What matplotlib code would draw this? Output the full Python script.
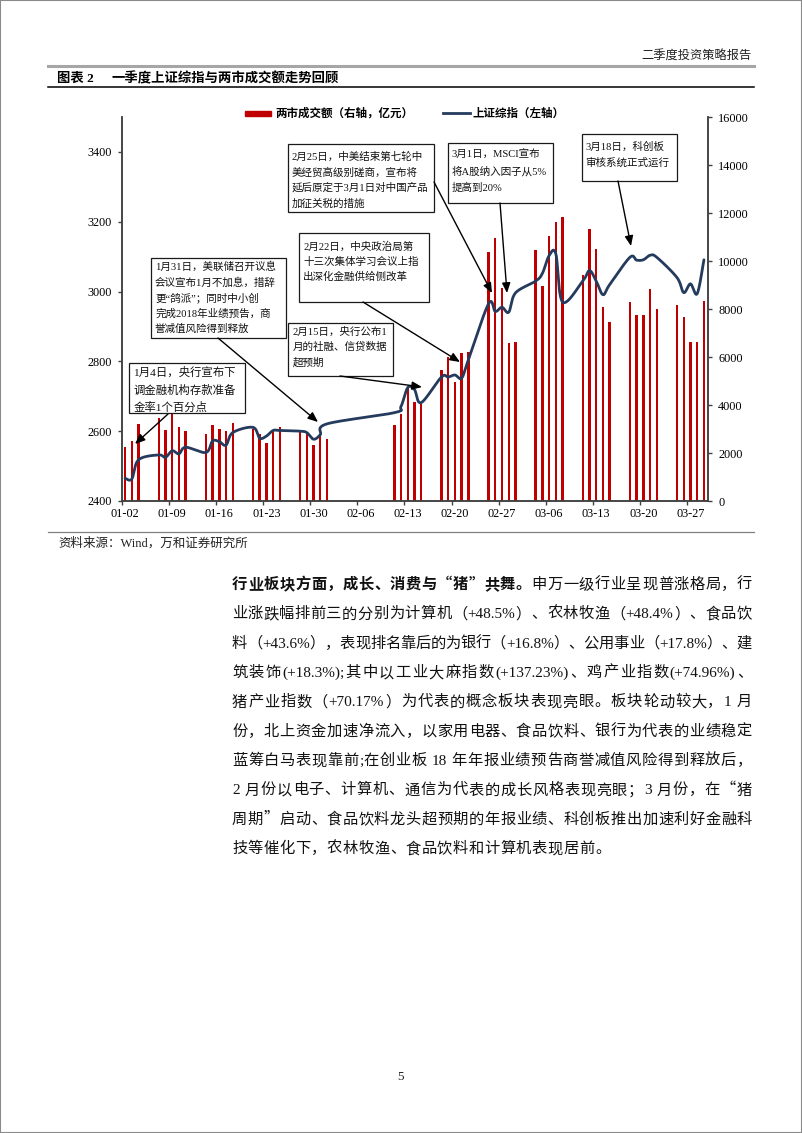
import datetime as dt
import numpy as np
import matplotlib
matplotlib.use('Agg')
import matplotlib.pyplot as plt
from matplotlib.patches import Rectangle, FancyArrowPatch
from matplotlib.lines import Line2D

# ---------------- data ----------------
trade_dates = ['01-02', '01-03', '01-04', '01-07', '01-08', '01-09', '01-10', '01-11',
               '01-14', '01-15', '01-16', '01-17', '01-18', '01-21', '01-22', '01-23',
               '01-24', '01-25', '01-28', '01-29', '01-30', '01-31', '02-01',
               '02-11', '02-12', '02-13', '02-14', '02-15', '02-18', '02-19', '02-20',
               '02-21', '02-22', '02-25', '02-26', '02-27', '02-28', '03-01',
               '03-04', '03-05', '03-06', '03-07', '03-08', '03-11', '03-12', '03-13',
               '03-14', '03-15', '03-18', '03-19', '03-20', '03-21', '03-22',
               '03-25', '03-26', '03-27', '03-28', '03-29']
turnover = [2230, 2480, 3200, 3440, 2950, 3730, 3090, 2920,
            2810, 3160, 2990, 2900, 3230, 2990, 2780, 2410,
            2950, 3090, 2950, 2890, 2340, 2720, 2580,
            3175, 3620, 4750, 4135, 4040, 5460, 6015, 4970,
            6150, 6200, 10370, 10960, 8890, 6590, 6610,
            10445, 8940, 11040, 11640, 11830, 9430, 11350, 10485,
            8100, 7475, 8300, 7730, 7770, 8840, 7990,
            8170, 7660, 6610, 6610, 8350]
sse_index = [2465, 2463, 2518, 2532, 2525, 2544, 2535, 2554,
             2539, 2572, 2570, 2560, 2596, 2611, 2580, 2586,
             2602, 2602, 2600, 2596, 2577, 2590, 2621,
             2653, 2671, 2725, 2719, 2682, 2755, 2755, 2761,
             2752, 2804, 2965, 2943, 2955, 2941, 2996,
             3030, 3052, 3103, 3108, 2970, 3030, 3060, 3030,
             2991, 3020, 3098, 3090, 3091, 3104, 3098,
             3040, 2997, 3022, 2994, 3091]
xtick_labels = ['01-02', '01-09', '01-16', '01-23', '01-30', '02-06', '02-13',
                '02-20', '02-27', '03-06', '03-13', '03-20', '03-27']
left_ticks = [2400, 2600, 2800, 3000, 3200, 3400]
right_ticks = [0, 2000, 4000, 6000, 8000, 10000, 12000, 14000, 16000]

legend_bar = '两市成交额（右轴，亿元）'
legend_line = '上证综指（左轴）'

notes = {
    'A': ['1月4日，央行宣布下', '调金融机构存款准备', '金率1个百分点'],
    'B': ['1月31日，美联储召开议息', '会议宣布1月不加息，措辞', '更“鸽派”；同时中小创',
          '完成2018年业绩预告，商', '誉减值风险得到释放'],
    'C': ['2月25日，中美结束第七轮中', '美经贸高级别磋商，宣布将',
          '延后原定于3月1日对中国产品', '加征关税的措施'],
    'D': ['2月22日，中央政治局第', '十三次集体学习会议上指', '出深化金融供给侧改革'],
    'E': ['3月1日，MSCI宣布', '将A股纳入因子从5%', '提高到20%'],
    'F': ['3月18日，科创板', '审核系统正式运行'],
    'G': ['2月15日，央行公布1', '月的社融、信贷数据', '超预期'],
}

para_lines = [
    '行业板块方面，成长、消费与“猪”共舞。申万一级行业呈现普涨格局，行',
    '业涨跌幅排前三的分别为计算机（+48.5%）、农林牧渔（+48.4%）、食品饮',
    '料（+43.6%），表现排名靠后的为银行（+16.8%）、公用事业（+17.8%）、建',
    '筑装饰(+18.3%);其中以工业大麻指数(+137.23%)、鸡产业指数(+74.96%)、',
    '猪产业指数（+70.17%）为代表的概念板块表现亮眼。板块轮动较大，1 月',
    '份，北上资金加速净流入，以家用电器、食品饮料、银行为代表的业绩稳定',
    '蓝筹白马表现靠前;在创业板 18 年年报业绩预告商誉减值风险得到释放后，',
    '2 月份以电子、计算机、通信为代表的成长风格表现亮眼；3 月份，在“猪',
    '周期”启动、食品饮料龙头超预期的年报业绩、科创板推出加速利好金融科',
    '技等催化下，农林牧渔、食品饮料和计算机表现居前。',
]
bold_prefix = '行业板块方面，成长、消费与“猪”共舞。'

# ---------------- setup ----------------
W, H = 802, 1133
MIX = ['Liberation Serif', 'Noto Sans CJK SC']
plt.rcParams['font.family'] = MIX

fig = plt.figure(figsize=(W / 100, H / 100), dpi=100)


def fx(x):
    return x / W


def fy(y):
    return 1 - y / H


def day_index(md):
    m, d = map(int, md.split('-'))
    return (dt.date(2019, m, d) - dt.date(2019, 1, 2)).days


def smooth(xs, ys, n=24):
    P = np.column_stack([xs, ys]).astype(float)
    Pe = np.vstack([P[0], P, P[-1]])
    out = []
    t = np.linspace(0, 1, n, endpoint=False)[:, None]
    for i in range(len(P) - 1):
        p0, p1, p2, p3 = Pe[i], Pe[i + 1], Pe[i + 2], Pe[i + 3]
        c1 = p1 + (p2 - p0) / 6
        c2 = p2 - (p3 - p1) / 6
        seg = (1 - t) ** 3 * p1 + 3 * (1 - t) ** 2 * t * c1 + 3 * (1 - t) * t ** 2 * c2 + t ** 3 * p2
        out.append(seg)
    out.append(P[-1][None])
    return np.vstack(out)


# page frame
fig.patches.append(Rectangle((0, 0), 1, 1, transform=fig.transFigure, fill=False,
                             edgecolor='#8a8a8a', lw=1.5))

# header
fig.text(fx(752), fy(56.5), '二季度投资策略报告', ha='right', va='center',
         fontsize=8.8, color='#222222')
fig.add_artist(Line2D([fx(48), fx(754)], [fy(65.7), fy(65.7)], color='#a6a6a6', lw=2.2))
fig.text(fx(57), fy(78.5), '图表 2', ha='left', va='center', fontsize=9.6, weight='bold')
fig.text(fx(111.5), fy(78.5), '一季度上证综指与两市成交额走势回顾', ha='left', va='center',
         fontsize=9.6, weight='bold')
fig.add_artist(Line2D([fx(48), fx(754)], [fy(87.3), fy(87.3)], color='black', lw=1.1))

# ---------------- chart ----------------
BAR_C = '#C00000'
LINE_C = '#243B5E'
SPINE_C = '#404040'

ax = fig.add_axes([fx(121.7), fy(501), (708.3 - 121.7) / W, (501 - 117) / H])
ax2 = ax.twinx()
ax.set_zorder(ax2.get_zorder() + 1)
ax.patch.set_visible(False)

xd = np.array([day_index(d) for d in trade_dates]) + 0.5
ax2.bar(xd, turnover, width=0.36, color=BAR_C, linewidth=0)
sm = smooth(xd, sse_index)
ax.plot(sm[:, 0], sm[:, 1], color=LINE_C, lw=2.0, solid_capstyle='round')

ax.set_xlim(0, 87.15)
ax.set_ylim(2400, 3500)
ax2.set_ylim(0, 16000)
ax.set_yticks(left_ticks)
ax2.set_yticks(right_ticks)
wk = np.array([day_index(l) for l in xtick_labels])
ax.set_xticks(wk + 0.5)
ax.set_xticklabels(xtick_labels)
ax.set_xticks(wk, minor=True)

for a in (ax, ax2):
    a.spines['top'].set_visible(False)
    for s in ('left', 'right', 'bottom'):
        a.spines[s].set_color(SPINE_C)
        a.spines[s].set_linewidth(1.1)
ax.tick_params(axis='x', which='major', length=0, pad=5, labelsize=8.8)
ax.tick_params(axis='x', which='minor', length=3, width=1, direction='out', color=SPINE_C)
ax.tick_params(axis='y', length=3, width=1, direction='out', color=SPINE_C, pad=4.2, labelsize=8.8)
ax2.tick_params(axis='y', length=3, width=1, direction='out', color=SPINE_C, pad=4.2, labelsize=8.8)

# legend
fig.patches.append(Rectangle((fx(245), fy(116)), 26 / W, 5 / H, transform=fig.transFigure,
                             color=BAR_C))
fig.text(fx(275), fy(113.5), legend_bar, ha='left', va='center', fontsize=8.3, weight='bold')
fig.add_artist(Line2D([fx(443), fx(470)], [fy(113.3), fy(113.3)], color=LINE_C, lw=2.0))
fig.text(fx(473), fy(113.5), legend_line, ha='left', va='center', fontsize=8.3, weight='bold')

# annotation boxes
boxes = {
    'A': ((129, 363, 245, 413), 133.5, [372.0, 389.5, 406.5], 8.2),
    'B': ((151, 258, 286, 338), 155, [265.7, 281.7, 297.3, 313.3, 328.5], 7.6),
    'C': ((288, 144, 434, 212), 291.5, [156.0, 171.7, 187.3, 203.3], 7.6),
    'D': ((299, 233, 429, 302), 303, [245.7, 261.0, 276.3], 7.6),
    'E': ((448, 143, 553, 203), 451.5, [154.0, 170.7, 186.7], 7.6),
    'F': ((582, 134, 677, 181), 585.5, [145.7, 161.7], 7.6),
    'G': ((288, 323, 393, 376), 292.5, [331.0, 346.3, 361.7], 7.6),
}
for key, ((x0, y0, x1, y1), tx, tys, fs) in boxes.items():
    fig.patches.append(Rectangle((fx(x0), fy(y1)), (x1 - x0) / W, (y1 - y0) / H,
                                 transform=fig.transFigure, facecolor='white',
                                 edgecolor='#1a1a1a', lw=0.9, zorder=5))
    em = fs * 100 / 72
    for line, ty in zip(notes[key], tys):
        fig.text(fx(tx), fy(ty + 0.36 * em), line, ha='left', va='baseline', fontsize=fs,
                 color='#111111', zorder=6)

arrows = [((168, 414), (135, 444)), ((218, 338), (318, 422)), ((434, 182), (492, 293)),
          ((363, 302), (460, 362)), ((340, 376), (422, 387)), ((500, 203), (507, 293)),
          ((618, 181), (631, 246))]
for (xa, ya), (xb, yb) in arrows:
    fig.add_artist(FancyArrowPatch((fx(xa), fy(ya)), (fx(xb), fy(yb)), transform=fig.transFigure,
                                   arrowstyle='-|>,head_length=0.6,head_width=0.25',
                                   mutation_scale=10, lw=1.0, color='black',
                                   shrinkA=0, shrinkB=0, zorder=6))

# source
fig.add_artist(Line2D([fx(48), fx(754)], [fy(531.7), fy(531.7)], color='#808080', lw=0.9))
fig.text(fx(58), fy(543), '资料来源：Wind，万和证券研究所', ha='left', va='center', fontsize=9,
         color='#222222')

# ---------------- paragraph (justified) ----------------
renderer = fig.canvas.get_renderer()
fs_p = 11
em_p = fs_p * 100 / 72
X0, X1 = 232, 752


def tokenize(line):
    toks = []
    buf = ''
    for ch in line:
        if ch == ' ':
            if buf:
                toks.append(buf)
                buf = ''
            toks.append(' ')
        elif ord(ch) < 128:
            buf += ch
        else:
            if buf:
                toks.append(buf)
                buf = ''
            toks.append(ch)
    if buf:
        toks.append(buf)
    return toks


def ascii_width(s, weight):
    t = fig.text(0, 0, s, fontsize=fs_p, family=['Liberation Serif'], weight=weight)
    w = t.get_window_extent(renderer).width
    t.remove()
    return w


nbold = len(bold_prefix)
for li, line in enumerate(para_lines):
    toks = tokenize(line)
    weights = []
    widths = []
    pos = 0
    for tk in toks:
        w8 = 'bold' if (li == 0 and pos < nbold) else 'normal'
        pos += len(tk)
        weights.append(w8)
        if tk == ' ':
            widths.append(0.25 * em_p)
        elif ord(tk[0]) < 128:
            widths.append(ascii_width(tk, w8))
        else:
            widths.append(em_p)
    last = li == len(para_lines) - 1
    gap = 0.5 if last else (X1 - X0 - sum(widths)) / (len(toks) - 1)
    yb = 583.5 + 29.35 * li + 0.36 * em_p
    x = X0
    for tk, w8, wd in zip(toks, weights, widths):
        if tk != ' ':
            if ord(tk[0]) < 128:
                fig.text(fx(x), fy(yb), tk, ha='left', va='baseline', fontsize=fs_p,
                         family=['Liberation Serif'], weight=w8, color='#111111')
            elif tk == '“':
                fig.text(fx(x + wd), fy(yb), tk, ha='right', va='baseline', fontsize=fs_p,
                         family=['Noto Sans CJK SC'], weight=w8, color='#111111')
            else:
                fig.text(fx(x), fy(yb), tk, ha='left', va='baseline', fontsize=fs_p,
                         family=['Noto Sans CJK SC'], weight=w8, color='#111111')
        x += wd + gap

# page number
fig.text(fx(401), fy(1077), '5', ha='center', va='center', fontsize=9.5,
         family=['Liberation Serif'], color='#222222')

fig.savefig('out.png', dpi=100)
